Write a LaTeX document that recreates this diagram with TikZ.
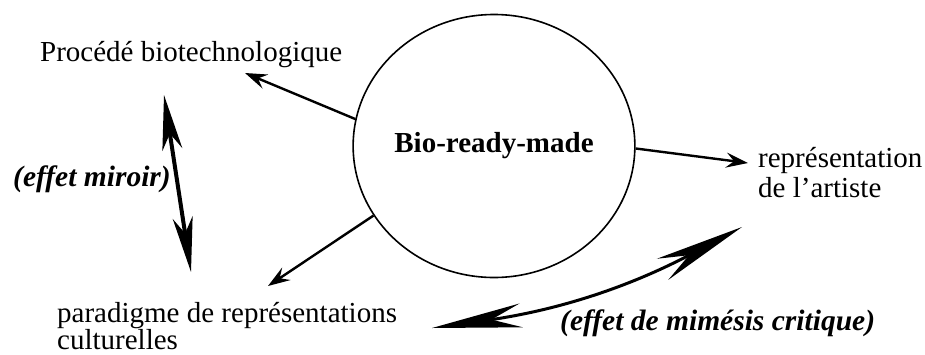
\documentclass[tikz,border=0pt]{standalone}
\usepackage{fontspec}
\setmainfont{Liberation Serif}
\usetikzlibrary{arrows.meta,shapes.geometric}
\begin{document}
\begin{tikzpicture}[x=1pt,y=-1pt,
  txt/.style={inner sep=0pt, font=\fontsize{29}{30}\selectfont},
  lab/.style={inner sep=0pt, font=\fontsize{29.5}{30}\selectfont\bfseries\itshape},
  conn/.style={line width=2.4pt, -{Stealth[length=22pt,width=15pt,inset=8pt]}},
  mirror/.style={line width=4pt, {Stealth[length=55pt,width=20pt,inset=16pt]}-{Stealth[length=55pt,width=20pt,inset=16pt]}},
  mimesis/.style={line width=3pt, {Stealth[length=90pt,width=24pt,inset=30pt]}-{Stealth[length=90pt,width=24pt,inset=30pt]}}]
\useasboundingbox (0,0) rectangle (925,354);

\node[draw, ellipse, line width=1.6pt, minimum width=280pt, minimum height=263pt,
      inner sep=0pt, font=\fontsize{29}{30}\selectfont\bfseries] (bio) at (494,146) {Bio-ready-made};

\node[txt, anchor=base west] (proc) at (40,61) {Procédé biotechnologique};
\node[lab, anchor=base west] (miroir) at (13,186) {(effet miroir)};
\node[txt, anchor=base west] (repr) at (758,167)
  {\begin{tabular}[t]{@{}l@{}}représentation\\de l’artiste\end{tabular}};
\node[txt, anchor=base west] (para) at (57,322)
  {\begin{tabular}[t]{@{}l@{}}paradigme de représentations\\[-3pt]culturelles\end{tabular}};
\node[lab, anchor=base west] (mim) at (560,330) {(effet de mimésis critique)};

\coordinate (tproc) at (245,73);
\coordinate (trepr) at (748,163);
\coordinate (tpara) at (268,286);
\coordinate (m1) at (164,95);
\coordinate (m2) at (191,272);
\coordinate (c1) at (432,328);
\coordinate (c2) at (742,227);

\draw[conn] (bio.169) -- (tproc);
\draw[conn] (bio.-1) -- (trepr);
\draw[conn] (bio.210) -- (tpara);
\draw[mirror] (m1) -- (m2);
\draw[mimesis] (c1) to[bend right=10] (c2);
\end{tikzpicture}
\end{document}
